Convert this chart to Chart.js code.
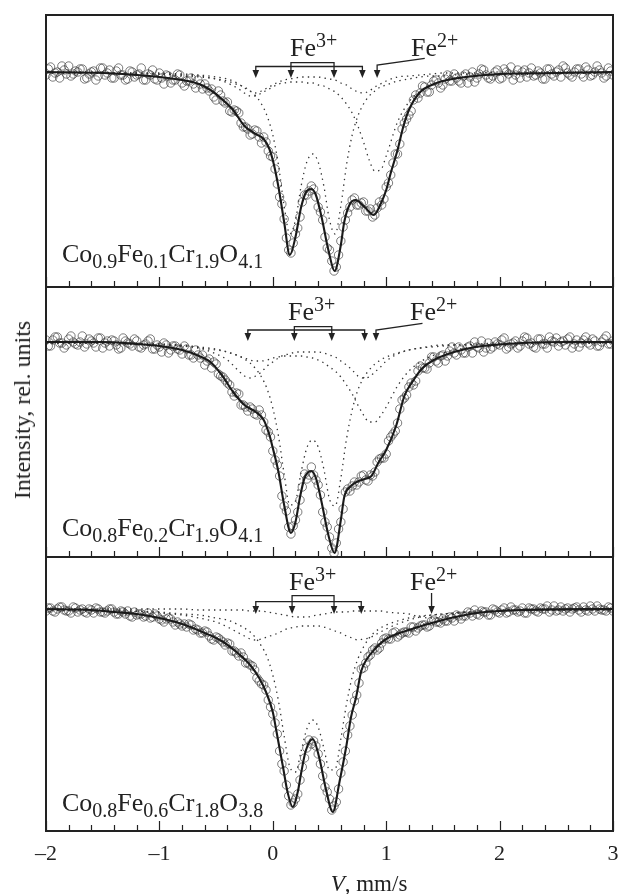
<!DOCTYPE html>
<html><head><meta charset="utf-8">
<script src="https://cdn.jsdelivr.net/npm/chart.js@4.4.1/dist/chart.umd.min.js"></script>
<style>
html,body{margin:0;padding:0;background:#fff;}
#wrap{position:relative;width:621px;height:894px;overflow:hidden;background:#fff;font-family:'Liberation Serif','Times New Roman',serif;color:#222;}
canvas{position:absolute;left:0;}
.lbl{position:absolute;white-space:nowrap;font-size:26px;line-height:26px;}
.lbl sub{font-size:20px;vertical-align:-6px;line-height:0;}
.lbl sup{font-size:20px;vertical-align:9px;line-height:0;}
#ytitle{position:absolute;left:22px;top:410px;transform:translate(-50%,-50%) rotate(-90deg);font-size:24px;line-height:24px;white-space:nowrap;}
#xtitle{position:absolute;left:369px;top:872px;transform:translateX(-50%);font-size:23px;line-height:23px;white-space:nowrap;}
</style></head><body>
<div id="wrap">
<canvas id="c1" width="621" height="295" style="top:0px"></canvas>
<canvas id="c2" width="621" height="286" style="top:279px"></canvas>
<canvas id="c3" width="621" height="345" style="top:549px"></canvas>
<div class="lbl" style="left:290px;top:35px">Fe<sup>3+</sup></div>
<div class="lbl" style="left:411px;top:35px">Fe<sup>2+</sup></div>
<div class="lbl" style="left:288px;top:299px">Fe<sup>3+</sup></div>
<div class="lbl" style="left:410px;top:299px">Fe<sup>2+</sup></div>
<div class="lbl" style="left:289px;top:569px">Fe<sup>3+</sup></div>
<div class="lbl" style="left:410px;top:569px">Fe<sup>2+</sup></div>
<div class="lbl" style="left:62px;top:241px">Co<sub>0.9</sub>Fe<sub>0.1</sub>Cr<sub>1.9</sub>O<sub>4.1</sub></div>
<div class="lbl" style="left:62px;top:515px">Co<sub>0.8</sub>Fe<sub>0.2</sub>Cr<sub>1.9</sub>O<sub>4.1</sub></div>
<div class="lbl" style="left:62px;top:790px">Co<sub>0.8</sub>Fe<sub>0.6</sub>Cr<sub>1.8</sub>O<sub>3.8</sub></div>
<div id="ytitle">Intensity, rel. units</div>
<div id="xtitle"><i>V</i>, mm/s</div>
</div>
<script>
// ---------- DATA ----------
// channel velocities (mm/s) of the measured points (two interleaved channel sets)
const vel = [-2,-1.96,-1.92,-1.88,-1.84,-1.8,-1.76,-1.72,-1.68,-1.64,-1.6,-1.56,-1.52,-1.48,-1.44,-1.4,-1.36,-1.32,-1.28,-1.24,-1.2,-1.16,-1.12,-1.08,-1.04,-1,-0.96,-0.92,-0.88,-0.84,-0.8,-0.76,-0.72,-0.68,-0.64,-0.6,-0.56,-0.52,-0.48,-0.44,-0.4,-0.36,-0.32,-0.28,-0.24,-0.2,-0.16,-0.12,-0.08,-0.04,0,0.04,0.08,0.12,0.16,0.2,0.24,0.28,0.32,0.36,0.4,0.44,0.48,0.52,0.56,0.6,0.64,0.68,0.72,0.76,0.8,0.84,0.88,0.92,0.96,1,1.04,1.08,1.12,1.16,1.2,1.24,1.28,1.32,1.36,1.4,1.44,1.48,1.52,1.56,1.6,1.64,1.68,1.72,1.76,1.8,1.84,1.88,1.92,1.96,2,2.04,2.08,2.12,2.16,2.2,2.24,2.28,2.32,2.36,2.4,2.44,2.48,2.52,2.56,2.6,2.64,2.68,2.72,2.76,2.8,2.84,2.88,2.92,2.96,3];
const vel2 = [-1.98,-1.94,-1.9,-1.86,-1.82,-1.78,-1.74,-1.7,-1.66,-1.62,-1.58,-1.54,-1.5,-1.46,-1.42,-1.38,-1.34,-1.3,-1.26,-1.22,-1.18,-1.14,-1.1,-1.06,-1.02,-0.98,-0.94,-0.9,-0.86,-0.82,-0.78,-0.74,-0.7,-0.66,-0.62,-0.58,-0.54,-0.5,-0.46,-0.42,-0.38,-0.34,-0.3,-0.26,-0.22,-0.18,-0.14,-0.1,-0.06,-0.02,0.02,0.06,0.1,0.14,0.18,0.22,0.26,0.3,0.34,0.38,0.42,0.46,0.5,0.54,0.58,0.62,0.66,0.7,0.74,0.78,0.82,0.86,0.9,0.94,0.98,1.02,1.06,1.1,1.14,1.18,1.22,1.26,1.3,1.34,1.38,1.42,1.46,1.5,1.54,1.58,1.62,1.66,1.7,1.74,1.78,1.82,1.86,1.9,1.94,1.98,2.02,2.06,2.1,2.14,2.18,2.22,2.26,2.3,2.34,2.38,2.42,2.46,2.5,2.54,2.58,2.62,2.66,2.7,2.74,2.78,2.82,2.86,2.9,2.94,2.98];

// measured intensities (rel. units)
const topCounts = [99.7,100.5,99.9,99.4,100.2,100.6,99.8,100.0,100.3,99.4,100.0,99.2,100.4,99.7,100.2,99.4,100.4,99.7,99.3,100.0,99.7,100.4,99.2,99.7,99.3,99.9,98.8,99.6,99.2,99.8,98.9,99.1,99.4,98.4,98.8,98.8,98.1,97.5,98.1,97.1,97.0,96.0,96.1,94.9,94.5,93.7,94.2,93.5,93.5,92.1,91.5,88.8,86.8,83.4,81.9,83.8,85.5,87.7,88.1,88.3,86.5,85.2,82.4,81.1,80.5,83.1,85.2,86.5,87.4,86.7,87.0,86.1,85.5,86.4,86.7,88.5,89.7,91.8,92.8,94.9,95.7,97.2,97.4,98.6,98.0,98.7,99.2,98.4,99.3,99.1,99.8,99.1,99.6,98.9,100.0,99.4,100.3,99.7,99.3,100.0,99.3,100.3,99.8,99.2,100.2,100.0,99.5,100.4,99.7,99.9,99.3,100.3,99.6,100.2,100.6,99.9,99.5,100.3,99.8,100.5,99.6,100.0,100.2,99.4,100.4,99.7];
const topCounts2 = [100.3,99.5,100.0,100.6,99.8,99.6,100.1,100.3,99.3,99.8,100.1,99.6,100.4,99.9,99.4,100.1,99.7,99.2,100.1,99.5,99.8,99.2,99.8,100.2,99.2,99.4,99.7,98.9,99.2,99.7,98.6,99.1,98.8,99.2,98.3,98.4,98.3,97.2,97.7,96.9,96.1,96.2,95.9,94.5,94.3,93.8,94.1,92.9,93.0,91.6,90.3,87.5,85.3,82.2,82.9,84.4,87.0,87.7,88.6,87.5,86.0,83.5,82.2,80.1,81.7,84.5,85.9,87.2,86.7,86.9,86.1,86.3,85.7,87.0,87.3,88.9,90.9,91.8,94.3,95.3,96.1,97.7,97.9,98.5,98.0,99.1,98.9,98.7,99.7,99.1,99.4,98.9,99.8,99.5,99.0,99.8,100.2,99.4,99.6,100.2,99.4,100.0,100.5,99.7,99.4,100.2,99.9,99.6,100.1,99.3,100.3,99.8,100.0,99.5,100.4,99.7,100.0,100.3,99.5,100.2,99.7,100.6,99.9,99.6,100.1];
const midCounts = [100.2,99.6,100.5,99.9,99.4,100.3,100.0,99.7,100.6,99.8,100.1,99.5,100.4,99.9,99.6,100.1,99.3,100.4,99.9,99.6,100.1,99.4,99.8,100.3,99.3,99.5,99.9,98.9,99.6,99.3,98.8,99.3,98.7,99.2,98.4,97.7,98.3,98.0,96.8,96.5,95.9,95.0,94.9,93.7,93.5,93.5,92.8,93.2,92.0,91.0,89.1,87.7,84.6,83.1,80.8,82.2,84.2,86.8,86.7,86.7,85.7,83.0,81.5,79.4,79.9,82.0,85.0,85.1,86.0,86.0,86.7,86.1,86.6,88.0,88.4,88.8,90.5,91.1,93.3,94.4,95.5,95.7,97.1,97.4,97.3,98.5,98.1,98.6,98.1,99.1,98.9,99.5,98.9,99.5,98.9,99.5,100.1,99.4,99.3,100.0,99.7,100.4,99.5,99.9,99.4,100.1,100.4,99.9,99.4,100.3,99.8,100.5,100.0,99.6,100.1,100.3,99.4,100.2,99.9,100.5,99.7,100.1,99.6,100.3,99.8,100.1];
const midCounts2 = [99.6,100.2,100.5,99.9,99.7,100.6,99.8,100.0,99.5,100.3,99.9,100.4,99.4,100.1,100.2,99.7,99.4,100.1,99.8,100.3,99.5,99.7,100.1,99.3,99.7,99.0,99.7,99.2,99.6,99.2,99.6,98.7,98.4,98.7,98.7,98.1,97.4,97.8,96.6,96.2,95.7,94.6,94.8,93.7,93.1,93.3,92.7,92.7,91.2,90.5,88.2,86.6,83.6,81.5,81.6,83.0,85.5,86.3,87.5,86.2,84.7,82.0,80.5,78.9,81.3,83.3,85.3,85.6,85.7,86.6,86.2,86.7,87.0,88.3,88.4,90.1,90.8,91.9,94.2,94.7,95.9,96.1,97.6,97.4,97.9,98.5,97.9,98.7,98.6,99.5,98.7,99.2,98.9,99.6,100.0,99.4,99.0,99.9,99.5,99.8,100.2,99.3,99.8,100.1,99.6,100.5,99.8,99.5,100.3,99.8,99.4,100.1,100.4,100.0,99.7,100.5,99.8,99.5,100.2,99.9,100.3,99.6,100.0,100.6,99.8];
const botCounts = [99.8,100.1,99.7,100.2,99.9,99.8,100.2,99.7,100.0,99.6,99.9,100.1,99.7,99.6,100.0,99.7,99.5,99.7,99.8,99.2,99.4,99.5,99.3,99.1,99.5,99.0,98.7,99.1,98.7,98.7,98.3,98.2,98.4,98.0,97.6,97.8,97.3,96.9,97.1,96.7,96.6,95.8,95.6,95.6,94.6,94.4,93.9,92.8,92.4,90.9,89.5,87.5,84.5,82.4,80.4,81.0,82.9,85.1,86.9,86.8,85.5,83.3,81.7,79.9,80.7,83.6,85.8,88.3,90.8,92.6,94.1,95.2,95.9,95.9,96.6,97.1,97.0,97.7,97.4,97.7,97.6,98.2,98.1,98.4,98.2,98.8,98.7,98.6,98.8,99.2,98.8,99.3,99.3,99.7,99.3,99.5,99.8,99.7,99.4,99.9,99.6,100.1,99.7,99.9,99.7,100.1,99.6,100.0,99.8,100.1,100.0,99.7,100.3,99.9,99.8,100.1,100.0,100.2,99.7,99.9,100.3,99.8,100.0,99.9,100.2,99.8];
const botCounts2 = [100.1,99.8,100.0,100.2,99.8,99.6,100.1,99.9,99.7,100.0,99.6,100.0,99.7,99.8,100.0,99.5,99.8,99.5,99.3,99.7,99.5,99.2,99.6,99.2,99.3,98.9,99.0,99.0,98.4,98.5,98.5,98.5,97.9,97.9,97.6,97.7,97.0,97.2,96.9,96.4,96.5,95.8,95.3,95.2,94.6,94.3,93.1,92.5,91.9,90.2,88.6,85.8,83.8,81.3,80.6,81.5,84.2,86.1,86.5,86.3,84.5,82.2,81.0,80.3,82.0,84.7,87.4,89.4,91.4,94.0,94.6,95.4,96.1,96.1,97.0,97.0,97.6,97.2,97.6,97.7,98.2,97.8,98.3,98.4,98.3,98.9,98.7,99.0,98.8,99.1,99.4,99.0,99.3,99.6,99.9,99.4,99.7,99.4,100.0,99.7,99.9,99.6,100.2,99.9,99.8,99.6,100.1,100.0,99.7,100.0,100.3,99.9,99.8,100.2,100.0,99.7,100.1,99.9,100.2,99.8,100.0,100.3,99.9,99.8,100.1];

// fitted envelopes (solid lines)
const topFitV = [-2,-1.5,-1.2,-1.0,-0.8,-0.65,-0.55,-0.45,-0.35,-0.25,-0.15,-0.08,-0.03,0,0.05,0.1,0.15,0.2,0.25,0.3,0.34,0.38,0.43,0.49,0.545,0.6,0.63,0.68,0.73,0.81,0.89,0.955,1.0,1.04,1.1,1.15,1.2,1.3,1.4,1.5,1.7,2.0,2.5,3.0];
const topFitI = [100,99.9,99.7,99.5,99.2,98.8,98.2,97.3,96.2,94.6,93.8,93.3,92.3,91.2,88.5,85.0,81.7,83.5,86.5,88.1,88.3,87.7,85.5,82.2,80.1,82.7,85.0,86.8,87.2,86.5,85.7,86.9,88.2,89.9,92.2,94.5,96.2,98.0,98.7,99.1,99.5,99.8,99.9,100];
const midFitV = [-2,-1.5,-1.2,-1.0,-0.8,-0.65,-0.55,-0.45,-0.35,-0.25,-0.15,-0.08,-0.03,0,0.05,0.1,0.16,0.2,0.24,0.28,0.34,0.38,0.43,0.49,0.545,0.6,0.63,0.68,0.74,0.81,0.87,0.93,1.0,1.09,1.16,1.23,1.32,1.42,1.52,1.7,1.85,2.2,2.6,3.0];
const midFitI = [100,100,99.8,99.6,99.2,98.6,98.0,96.7,95.0,93.7,93.0,92.2,90.7,89.4,87.0,83.7,80.9,82.0,84.5,86.4,87.1,86.4,84.0,80.7,78.9,82.2,84.5,85.5,86.0,86.3,86.6,87.9,89.2,91.7,94.6,96.0,97.4,98.2,98.7,99.3,99.6,99.9,100,100];
const botFitV = [-2,-1.6,-1.4,-1.2,-1.0,-0.8,-0.6,-0.45,-0.3,-0.2,-0.12,-0.06,0,0.03,0.09,0.13,0.176,0.22,0.25,0.29,0.353,0.41,0.47,0.529,0.588,0.647,0.69,0.735,0.78,0.83,0.9,1.0,1.2,1.5,1.8,2.2,3.0];
const botFitI = [100,99.9,99.7,99.5,99.1,98.5,97.6,96.8,95.5,94.4,93.1,91.7,89.7,87.9,84.2,81.7,80.2,81.7,83.6,85.8,87.0,85.1,81.9,79.7,82.7,86.2,89.2,91.2,93.8,95.0,96.0,97.0,97.9,98.9,99.6,99.9,100];

// sub-spectra (dotted lines), sampled on a common velocity grid
const compV = [-2,-1.6,-1.3,-1.0,-0.8,-0.65,-0.5,-0.4,-0.3,-0.25,-0.2,-0.15,-0.1,-0.05,0,0.05,0.1,0.15,0.2,0.25,0.3,0.35,0.4,0.45,0.5,0.55,0.6,0.65,0.7,0.75,0.8,0.85,0.9,0.95,1.0,1.1,1.2,1.3,1.4,1.5,1.6,1.8,2.0,2.4,3.0];
const topFe3A = [99.9,99.9,99.8,99.8,99.6,99.5,99.3,99.1,98.7,98.5,98.1,97.6,96.8,95.6,93.7,90.7,86.6,83.8,85.2,88.6,91.0,91.8,91.0,88.6,85.2,83.8,86.6,90.7,93.7,95.6,96.8,97.6,98.1,98.5,98.7,99.1,99.3,99.5,99.6,99.6,99.7,99.8,99.8,99.9,99.9];
const topFe3B = [100,100,99.9,99.9,99.8,99.7,99.5,99.3,98.8,98.4,98.1,97.9,98.1,98.4,98.7,99.0,99.2,99.3,99.4,99.5,99.5,99.5,99.5,99.4,99.3,99.2,98.9,98.7,98.3,98.0,97.9,98.1,98.5,98.8,99.1,99.5,99.6,99.7,99.8,99.9,99.9,99.9,100,100,100];
const topFe2 = [99.9,99.9,99.9,99.8,99.7,99.6,99.3,98.9,98.3,97.9,97.6,97.6,97.9,98.2,98.5,98.8,98.9,99.0,99.0,99.0,98.9,98.9,98.7,98.6,98.3,98.0,97.5,96.8,95.9,94.6,93.0,91.2,90.1,90.2,91.6,95.0,97.0,98.1,98.7,99.1,99.3,99.6,99.7,99.8,99.9];
const midFe3A = [99.9,99.9,99.8,99.7,99.6,99.4,99.2,99.0,98.6,98.3,97.9,97.3,96.5,95.3,93.4,90.6,86.8,83.7,84.1,87.0,89.4,90.2,89.5,87.3,84.3,83.6,86.4,90.3,93.2,95.2,96.4,97.2,97.8,98.2,98.5,98.9,99.2,99.4,99.5,99.6,99.7,99.7,99.8,99.9,99.9];
const midFe3B = [99.9,99.9,99.9,99.8,99.6,99.4,98.8,98.2,97.1,96.6,96.4,96.6,97.0,97.6,98.0,98.4,98.7,98.8,99.0,99.0,99.0,99.0,99.0,98.9,98.7,98.5,98.1,97.7,97.2,96.6,96.4,96.5,97.0,97.5,98.1,98.8,99.2,99.4,99.6,99.7,99.7,99.8,99.9,99.9,100];
const midFe2 = [99.9,99.9,99.8,99.8,99.7,99.5,99.3,99.0,98.6,98.4,98.2,98.1,98.1,98.2,98.4,98.5,98.6,98.6,98.6,98.6,98.5,98.4,98.2,97.9,97.5,97.1,96.5,95.7,94.8,93.7,92.7,92.0,92.0,92.6,93.5,95.6,97.1,98.0,98.6,98.9,99.2,99.5,99.6,99.8,99.9];
const botFe3A = [99.9,99.8,99.8,99.7,99.5,99.4,99.1,98.9,98.4,98.1,97.7,97.1,96.3,95.2,93.4,90.8,87.3,84.2,83.7,85.8,88.0,88.9,88.2,86.1,83.9,84.0,87.0,90.5,93.2,95.0,96.2,97.1,97.7,98.1,98.4,98.8,99.1,99.3,99.4,99.5,99.6,99.7,99.8,99.9,99.9];
const botFe3B = [99.9,99.8,99.8,99.6,99.4,99.1,98.7,98.2,97.6,97.3,97.0,96.9,97.0,97.2,97.4,97.6,97.9,98.1,98.2,98.3,98.3,98.3,98.3,98.2,98.0,97.8,97.6,97.3,97.1,96.9,97.0,97.1,97.4,97.7,98.0,98.5,98.9,99.2,99.4,99.5,99.6,99.7,99.8,99.9,99.9];
const botFe2 = [100,100,100,100,100,99.9,99.9,99.9,99.9,99.9,99.8,99.8,99.8,99.7,99.6,99.5,99.4,99.3,99.2,99.2,99.2,99.3,99.4,99.5,99.6,99.7,99.7,99.7,99.8,99.8,99.8,99.8,99.8,99.8,99.7,99.6,99.5,99.2,99.1,99.2,99.5,99.8,99.9,100,100];

// marked line positions (mm/s)
const topFe3Outer = [-0.15, 0.79], topFe3Inner = [0.16, 0.54], topFe2Line = 0.92;
const midFe3Outer = [-0.22, 0.81], midFe3Inner = [0.19, 0.52], midFe2Line = 0.91;
const botFe3Outer = [-0.15, 0.78], botFe3Inner = [0.17, 0.54], botFe2Line = 1.40;

// x axis range
const xMin = -2, xMax = 3;

// ---------- DRAWING ----------
const INK = '#222';
const pts = (xs, ys) => xs.map((v, k) => ({x: v, y: ys[k]}));

function frameAndMarks(mk) {
  return {
    id: 'frameAndMarks',
    afterDatasetsDraw(chart) {
      const {ctx, chartArea: a, scales: {x}} = chart;
      const px = v => x.getPixelForValue(v);
      ctx.save();
      ctx.strokeStyle = INK; ctx.fillStyle = INK;
      // inward ticks on the lower edge (major every 1, minor every 0.2)
      ctx.lineWidth = 1.2;
      ctx.beginPath();
      for (let k = 0; k <= 25; k++) {
        const v = xMin + k * 0.2;
        const xx = Math.round(px(v)) + 0.5;
        const len = (k % 5 === 0) ? 10 : 6;
        ctx.moveTo(xx, a.bottom); ctx.lineTo(xx, a.bottom - len);
      }
      ctx.stroke();
      // frame
      ctx.lineWidth = 2;
      ctx.strokeRect(a.left, a.top, a.right - a.left, a.bottom - a.top);
      // Fe3+ brackets and Fe2+ arrow
      const o = mk.off, yT = a.top;
      const tip = yT + o.tip, yo = yT + o.outer, yi = yT + o.inner;
      const [o1, o2] = mk.outer.map(px), [i1, i2] = mk.inner.map(px), f = px(mk.fe2);
      ctx.lineWidth = 1.3;
      ctx.beginPath();
      ctx.moveTo(o1, tip - 6); ctx.lineTo(o1, yo); ctx.lineTo(o2, yo); ctx.lineTo(o2, tip - 6);
      ctx.moveTo(i1, tip - 6); ctx.lineTo(i1, yi); ctx.lineTo(i2, yi); ctx.lineTo(i2, tip - 6);
      ctx.moveTo(f, tip - 6); ctx.lineTo(f, yT + o.fe2Top);
      if (mk.leader) ctx.lineTo(px(mk.leader[0]), yT + mk.leader[1]);
      ctx.stroke();
      for (const hx of [o1, o2, i1, i2, f]) {
        ctx.beginPath();
        ctx.moveTo(hx - 3.3, tip - 8); ctx.lineTo(hx + 3.3, tip - 8); ctx.lineTo(hx, tip);
        ctx.closePath(); ctx.fill();
      }
      ctx.restore();
    }
  };
}

function makePanel(id, p) {
  const dotted = {borderColor: '#333', borderWidth: 1.3, borderDash: [1.4, 4.2], pointRadius: 0, fill: false, cubicInterpolationMode: 'monotone'};
  const datasets = [
    {label: 'fit', data: pts(p.fitV, p.fitI), borderColor: '#1a1a1a', borderWidth: 2.1, pointRadius: 0, fill: false, cubicInterpolationMode: 'monotone'},
    Object.assign({label: 'Fe3+ (1)', data: pts(compV, p.a)}, dotted),
    Object.assign({label: 'Fe3+ (2)', data: pts(compV, p.b)}, dotted),
    Object.assign({label: 'Fe2+', data: pts(compV, p.c)}, dotted),
    {label: 'experiment', data: pts(vel, p.counts).concat(pts(vel2, p.counts2)), showLine: false,
     pointRadius: 4.2, pointBorderWidth: 0.75, pointBorderColor: 'rgba(50,50,50,0.85)',
     pointBackgroundColor: 'rgba(255,255,255,0)', pointHoverRadius: 4.2}
  ];
  const xAxis = {type: 'linear', min: xMin, max: xMax, display: p.bottom};
  if (p.bottom) {
    Object.assign(xAxis, {
      position: 'bottom',
      grid: {display: false, drawTicks: false},
      border: {display: false},
      ticks: {stepSize: 1, padding: 10, color: INK, autoSkip: false, maxRotation: 0,
              font: {family: "'Liberation Serif', serif", size: 22},
              callback: v => (v < 0 ? '\u2013' + Math.abs(v) : String(v))},
      afterFit: s => { s.height = 63; s.paddingLeft = 0; s.paddingRight = 0; }
    });
  }
  new Chart(document.getElementById(id), {
    type: 'line',
    data: {datasets},
    options: {
      responsive: false, animation: false, devicePixelRatio: 1,
      layout: {padding: {left: 46, right: 8, top: p.padTop, bottom: p.padBottom}},
      plugins: {legend: {display: false}, tooltip: {enabled: false}},
      scales: {x: xAxis, y: {display: false, min: p.yMin, max: p.yMax}}
    },
    plugins: [frameAndMarks(p.marks)]
  });
}

makePanel('c1', {fitV: topFitV, fitI: topFitI, a: topFe3A, b: topFe3B, c: topFe2, counts: topCounts, counts2: topCounts2,
  yMin: 78.5, yMax: 105.7, padTop: 15, padBottom: 8, bottom: false,
  marks: {outer: topFe3Outer, inner: topFe3Inner, fe2: topFe2Line, leader: [1.34, 43.3],
          off: {inner: 47.7, outer: 51.5, tip: 63, fe2Top: 50}}});
makePanel('c2', {fitV: midFitV, fitI: midFitI, a: midFe3A, b: midFe3B, c: midFe2, counts: midCounts, counts2: midCounts2,
  yMin: 78.5, yMax: 105.5, padTop: 8, padBottom: 8, bottom: false,
  marks: {outer: midFe3Outer, inner: midFe3Inner, fe2: midFe2Line, leader: [1.32, 36.3],
          off: {inner: 39.7, outer: 43, tip: 54, fe2Top: 43}}});
makePanel('c3', {fitV: botFitV, fitI: botFitI, a: botFe3A, b: botFe3B, c: botFe2, counts: botCounts, counts2: botCounts2,
  yMin: 77.8, yMax: 105.2, padTop: 8, padBottom: 0, bottom: true,
  marks: {outer: botFe3Outer, inner: botFe3Inner, fe2: botFe2Line, leader: null,
          off: {inner: 38.7, outer: 44.7, tip: 57, fe2Top: 36}}});
</script>
</body></html>
